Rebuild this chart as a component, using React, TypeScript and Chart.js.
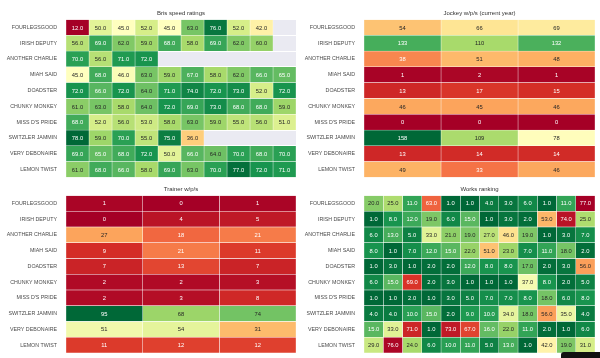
import React, { useEffect, useRef } from "react";
import { Chart, registerables } from "chart.js";

Chart.register(...registerables);

// ---------- data ----------
const horses = [
  "FOURLEGSGOOD",
  "IRISH DEPUTY",
  "ANOTHER CHARLIE",
  "MIAH SAID",
  "DOADSTER",
  "CHUNKY MONKEY",
  "MISS D'S PRIDE",
  "SWITZLER JAMMIN",
  "VERY DEBONAIRE",
  "LEMON TWIST",
];

const brisSpeedRatings: (number | null)[][] = [
  [12, 50, 45, 52, 45, 63, 76, 52, 42, null],
  [56, 69, 62, 59, 68, 58, 69, 62, 60, null],
  [70, 56, 71, 72, null, null, null, null, null, null],
  [45, 68, 46, 63, 59, 67, 58, 62, 66, 65],
  [72, 66, 72, 64, 71, 74, 72, 73, 52, 72],
  [61, 63, 58, 64, 72, 69, 73, 68, 68, 59],
  [68, 52, 56, 53, 58, 63, 59, 55, 56, 51],
  [78, 59, 70, 55, 75, 36, null, null, null, null],
  [69, 65, 68, 72, 50, 66, 64, 70, 68, 70],
  [61, 68, 66, 58, 69, 63, 70, 77, 72, 71],
];

const jockeyWPS: number[][] = [
  [54, 66, 69],
  [133, 110, 132],
  [38, 51, 48],
  [1, 2, 1],
  [13, 17, 15],
  [46, 45, 46],
  [0, 0, 0],
  [158, 109, 78],
  [13, 14, 14],
  [49, 33, 46],
];

const trainerWPS: number[][] = [
  [1, 0, 1],
  [0, 4, 5],
  [27, 18, 21],
  [9, 21, 11],
  [7, 13, 7],
  [2, 2, 3],
  [2, 3, 8],
  [95, 68, 74],
  [51, 54, 31],
  [11, 12, 12],
];

const worksRanking: number[][] = [
  [20, 25, 11, 63, 1, 1, 4, 3, 6, 1, 11, 77],
  [1, 8, 12, 19, 6, 15, 1, 3, 2, 53, 74, 25],
  [6, 13, 5, 33, 21, 19, 27, 46, 19, 1, 3, 7],
  [8, 1, 7, 12, 15, 22, 51, 23, 7, 11, 18, 2],
  [1, 3, 1, 2, 2, 12, 8, 8, 17, 2, 3, 56],
  [6, 15, 69, 2, 3, 1, 1, 1, 37, 8, 2, 5],
  [1, 1, 2, 1, 3, 5, 7, 7, 8, 18, 6, 8],
  [4, 4, 10, 15, 2, 9, 10, 34, 18, 56, 35, 4],
  [15, 33, 71, 1, 73, 67, 16, 22, 11, 2, 1, 6],
  [29, 76, 24, 6, 10, 11, 5, 13, 1, 42, 19, 31],
];

// ---------- colour map (RdYlGn) ----------
const RDYLGN = [
  "#a50026", "#d73027", "#f46d43", "#fdae61", "#fee08b", "#ffffbf",
  "#d9ef8b", "#a6d96a", "#66bd63", "#1a9850", "#006837",
];

function hexToRgb(h: string) {
  return [parseInt(h.slice(1, 3), 16), parseInt(h.slice(3, 5), 16), parseInt(h.slice(5, 7), 16)];
}
const RDYLGN_RGB = RDYLGN.map(hexToRgb);

function cmap(t: number): number[] {
  const tt = Math.max(0, Math.min(1, t)) * (RDYLGN_RGB.length - 1);
  const i = Math.min(Math.floor(tt), RDYLGN_RGB.length - 2);
  const f = tt - i;
  const a = RDYLGN_RGB[i], b = RDYLGN_RGB[i + 1];
  return [0, 1, 2].map((k) => a[k] + (b[k] - a[k]) * f);
}

function luminance(rgb: number[]) {
  const lin = rgb.map((c) => {
    const s = c / 255;
    return s <= 0.03928 ? s / 12.92 : Math.pow((s + 0.055) / 1.055, 2.4);
  });
  return 0.2126 * lin[0] + 0.7152 * lin[1] + 0.0722 * lin[2];
}

const FONT = "'Liberation Sans', Arial, sans-serif";

type PanelProps = {
  left: number;
  top: number;
  width: number;
  height: number;
  yWidth: number;
  padTop: number;
  padBottom: number;
  padRight: number;
  title: string;
  values: (number | null)[][];
  ncols: number;
  decimals: number;
  reverse?: boolean;
};

function Heatmap(p: PanelProps) {
  const ref = useRef<HTMLCanvasElement | null>(null);

  useEffect(() => {
    if (!ref.current) return;
    const flat = p.values.flat().filter((v): v is number => v != null);
    const vmin = Math.min(...flat);
    const vmax = Math.max(...flat);
    const rgbOf = (v: number) => {
      let t = (v - vmin) / (vmax - vmin);
      if (p.reverse) t = 1 - t;
      return cmap(t);
    };
    const cell = (r: number, c: number) => {
      const v = p.values[r][c];
      return v === undefined ? null : v;
    };

    const datasets = Array.from({ length: p.ncols }, (_, c) => ({
      label: "col" + c,
      data: horses.map((_, r) => (cell(r, c) == null ? null : 1)),
      backgroundColor: horses.map((_, r) => {
        const v = cell(r, c);
        if (v == null) return "rgba(0,0,0,0)";
        const rgb = rgbOf(v);
        return `rgb(${rgb[0]},${rgb[1]},${rgb[2]})`;
      }),
      borderColor: "#ffffff",
      borderWidth: 0.5,
      borderSkipped: false as const,
      categoryPercentage: 1,
      barPercentage: 1,
    }));

    const bgPlugin = {
      id: "bg",
      beforeDraw(chart: any) {
        const { ctx, chartArea: a } = chart;
        ctx.save();
        ctx.fillStyle = "#eaeaf2";
        ctx.fillRect(a.left, a.top, a.right - a.left, a.bottom - a.top);
        ctx.restore();
      },
    };

    const titlePlugin = {
      id: "ttl",
      afterDraw(chart: any) {
        const { ctx, chartArea: a } = chart;
        ctx.save();
        ctx.font = `6px ${FONT}`;
        ctx.fillStyle = "#333333";
        ctx.textAlign = "center";
        ctx.textBaseline = "middle";
        ctx.fillText(p.title, (a.left + a.right) / 2, a.top - 6.5);
        ctx.restore();
      },
    };

    const annotPlugin = {
      id: "annot",
      afterDatasetsDraw(chart: any) {
        const { ctx } = chart;
        ctx.save();
        ctx.font = `5.8px ${FONT}`;
        ctx.textAlign = "center";
        ctx.textBaseline = "middle";
        chart.data.datasets.forEach((ds: any, c: number) => {
          const meta = chart.getDatasetMeta(c);
          meta.data.forEach((el: any, r: number) => {
            const v = cell(r, c);
            if (v == null) return;
            const pt = el.getCenterPoint();
            const lum = luminance(rgbOf(v));
            ctx.fillStyle = lum > 0.408 ? "#262626" : "#ffffff";
            ctx.fillText(v.toFixed(p.decimals), pt.x, pt.y + 0.5);
          });
        });
        ctx.restore();
      },
    };

    const chart = new Chart(ref.current, {
      type: "bar",
      data: { labels: horses, datasets },
      plugins: [bgPlugin, titlePlugin, annotPlugin],
      options: {
        indexAxis: "y",
        animation: false,
        responsive: false,
        maintainAspectRatio: false,
        devicePixelRatio: 1,
        layout: {
          padding: { top: p.padTop, bottom: p.padBottom, right: p.padRight, left: 0 },
        },
        plugins: {
          legend: { display: false },
          tooltip: { enabled: false },
          title: { display: false },
        },
        scales: {
          x: {
            type: "linear",
            min: 0,
            max: p.ncols,
            stacked: true,
            display: false,
          },
          y: {
            stacked: true,
            grid: {
              color: "#ffffff",
              lineWidth: 1,
              drawTicks: true,
              tickLength: 9,
              tickColor: "rgba(0,0,0,0)",
            },
            border: { display: false },
            ticks: {
              color: "#4a4a4a",
              font: { family: FONT, size: 5.3, lineHeight: 1 },
              padding: 0,
              autoSkip: false,
            },
            afterFit(scale: any) {
              scale.width = p.yWidth;
            },
          },
        },
      } as any,
    });
    return () => chart.destroy();
  }, []);

  return (
    <canvas
      ref={ref}
      width={p.width}
      height={p.height}
      style={{ position: "absolute", left: p.left, top: p.top, width: p.width, height: p.height }}
    />
  );
}

export default function App() {
  return (
    <div
      style={{
        position: "fixed",
        left: 0,
        top: 0,
        width: 600,
        height: 358,
        background: "#ffffff",
        overflow: "hidden",
      }}
    >
      <Heatmap
        left={0} top={0} width={300} height={182}
        yWidth={66} padTop={19.5} padBottom={4.5} padRight={4}
        title="Bris speed ratings" values={brisSpeedRatings} ncols={10} decimals={1}
      />
      <Heatmap
        left={300} top={0} width={300} height={182}
        yWidth={64} padTop={19.5} padBottom={4.5} padRight={5}
        title="Jockey w/p/s (current year)" values={jockeyWPS} ncols={3} decimals={0}
      />
      <Heatmap
        left={0} top={180} width={300} height={178}
        yWidth={66} padTop={15.5} padBottom={5} padRight={4}
        title="Trainer w/p/s" values={trainerWPS} ncols={3} decimals={0}
      />
      <Heatmap
        left={300} top={180} width={300} height={178}
        yWidth={64} padTop={15.5} padBottom={5} padRight={5}
        title="Works ranking" values={worksRanking} ncols={12} decimals={1} reverse
      />
      <div
        style={{
          position: "absolute",
          left: 561,
          top: 352,
          width: 39,
          height: 6,
          background: "#111111",
          borderTopLeftRadius: 3,
        }}
      />
    </div>
  );
}
